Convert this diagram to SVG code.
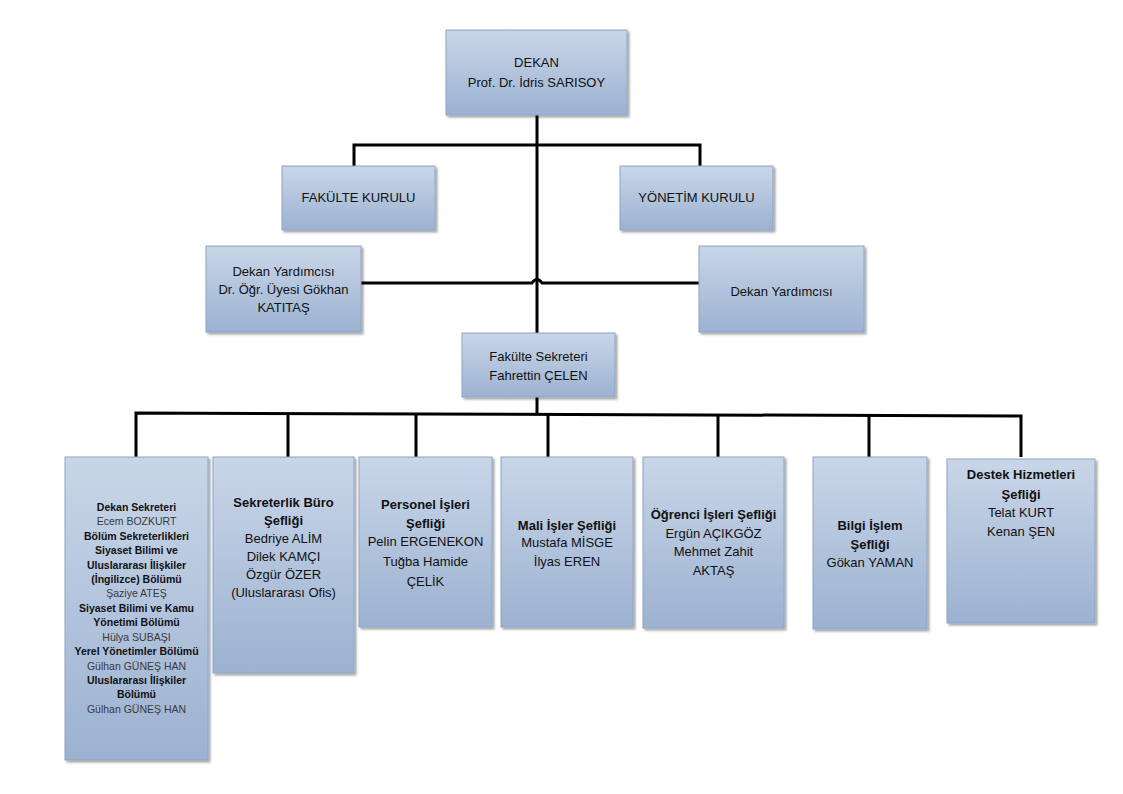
<svg xmlns="http://www.w3.org/2000/svg" width="1123" height="794" viewBox="0 0 1123 794">
<defs>
<linearGradient id="g" x1="0" y1="0" x2="0" y2="1">
<stop offset="0" stop-color="#c9d6e8"/>
<stop offset="1" stop-color="#9cb2d1"/>
</linearGradient>
<filter id="sh" x="-10%" y="-10%" width="130%" height="130%">
<feDropShadow dx="2" dy="2" stdDeviation="1.2" flood-color="#000" flood-opacity="0.35"/>
</filter>
</defs>
<style>
.box{fill:url(#g);stroke:#8ea4c4;stroke-width:1;filter:url(#sh)}
text{font-family:"Liberation Sans",Arial,sans-serif;fill:#111;text-anchor:middle}
.t{font-size:13px}
.s{font-size:10.5px}
.b{font-weight:bold}
.n{fill:#3a3a3a}
.c{fill:none;stroke:#000;stroke-width:3}
</style>
<rect width="1123" height="794" fill="#fff"/>
<g id="connectors">
<path class="c" d="M537 115 V333"/>
<path class="c" d="M354 166 V145 H700 V166"/>
<path class="c" d="M361 283 H532 Q537 276 542 283 H699"/>
<path class="c" d="M537 397 V414"/>
<path class="c" d="M136 457 V413 L1021 416 V457"/>
<path class="c" d="M288 457 V414"/>
<path class="c" d="M416 457 V414"/>
<path class="c" d="M548 457 V415"/>
<path class="c" d="M718 457 V415"/>
<path class="c" d="M869 457 V416"/>
</g>
<g id="dekan">
<rect class="box" x="446" y="30" width="181" height="85"/>
<text class="t" x="536.5" y="67">DEKAN</text>
<text class="t" x="536.5" y="87">Prof. Dr. İdris SARISOY</text>
</g>
<g id="fakulte-kurulu">
<rect class="box" x="282" y="166" width="153" height="64"/>
<text class="t" x="358.5" y="202">FAKÜLTE KURULU</text>
</g>
<g id="yonetim-kurulu">
<rect class="box" x="620" y="166" width="153" height="64"/>
<text class="t" x="696.5" y="202">YÖNETİM KURULU</text>
</g>
<g id="dekan-yard-1">
<rect class="box" x="206" y="246" width="155" height="86"/>
<text class="t" x="283.5" y="276">Dekan Yardımcısı</text>
<text class="t" x="283.5" y="294">Dr. Öğr. Üyesi Gökhan</text>
<text class="t" x="283.5" y="312">KATITAŞ</text>
</g>
<g id="dekan-yard-2">
<rect class="box" x="699" y="246" width="165" height="86"/>
<text class="t" x="781.5" y="296">Dekan Yardımcısı</text>
</g>
<g id="fakulte-sekreteri">
<rect class="box" x="462" y="333" width="153" height="64"/>
<text class="t" x="538.5" y="361">Fakülte Sekreteri</text>
<text class="t" x="538.5" y="380">Fahrettin ÇELEN</text>
</g>
<g id="dekan-sekreteri">
<rect class="box" x="65" y="457" width="143" height="303"/>
<text class="s b" x="136.5" y="511">Dekan Sekreteri</text>
<text class="s n" x="136.5" y="525">Ecem BOZKURT</text>
<text class="s b" x="136.5" y="540">Bölüm Sekreterlikleri</text>
<text class="s b" x="136.5" y="554">Siyaset Bilimi ve</text>
<text class="s b" x="136.5" y="569">Uluslararası İlişkiler</text>
<text class="s b" x="136.5" y="583">(İngilizce) Bölümü</text>
<text class="s n" x="136.5" y="597">Şaziye ATEŞ</text>
<text class="s b" x="136.5" y="612">Siyaset Bilimi ve Kamu</text>
<text class="s b" x="136.5" y="626">Yönetimi Bölümü</text>
<text class="s n" x="136.5" y="641">Hülya SUBAŞI</text>
<text class="s b" x="136.5" y="655">Yerel Yönetimler Bölümü</text>
<text class="s n" x="136.5" y="670">Gülhan GÜNEŞ HAN</text>
<text class="s b" x="136.5" y="684">Uluslararası İlişkiler</text>
<text class="s b" x="136.5" y="698">Bölümü</text>
<text class="s n" x="136.5" y="713">Gülhan GÜNEŞ HAN</text>
</g>
<g id="sekreterlik">
<rect class="box" x="213" y="457" width="141" height="216"/>
<text class="t b" x="283.5" y="507">Sekreterlik Büro</text>
<text class="t b" x="283.5" y="525">Şefliği</text>
<text class="t" x="283.5" y="543">Bedriye ALİM</text>
<text class="t" x="283.5" y="561">Dilek KAMÇI</text>
<text class="t" x="283.5" y="579">Özgür ÖZER</text>
<text class="t" x="283.5" y="597">(Uluslararası Ofis)</text>
</g>
<g id="personel">
<rect class="box" x="359" y="457" width="133" height="170"/>
<text class="t b" x="425.5" y="509">Personel İşleri</text>
<text class="t b" x="425.5" y="528">Şefliği</text>
<text class="t" x="425.5" y="546">Pelin ERGENEKON</text>
<text class="t" x="425.5" y="566">Tuğba Hamide</text>
<text class="t" x="425.5" y="586">ÇELİK</text>
</g>
<g id="mali">
<rect class="box" x="501" y="457" width="132" height="170"/>
<text class="t b" x="567" y="530">Mali İşler Şefliği</text>
<text class="t" x="567" y="547">Mustafa MİSGE</text>
<text class="t" x="567" y="566">İlyas EREN</text>
</g>
<g id="ogrenci">
<rect class="box" x="643" y="457" width="141" height="171"/>
<text class="t b" x="713.5" y="519">Öğrenci İşleri Şefliği</text>
<text class="t" x="713.5" y="538">Ergün AÇIKGÖZ</text>
<text class="t" x="713.5" y="556">Mehmet Zahit</text>
<text class="t" x="713.5" y="575">AKTAŞ</text>
</g>
<g id="bilgi-islem">
<rect class="box" x="813" y="457" width="114" height="172"/>
<text class="t b" x="870" y="530">Bilgi İşlem</text>
<text class="t b" x="870" y="549">Şefliği</text>
<text class="t" x="870" y="567">Gökan YAMAN</text>
</g>
<g id="destek">
<rect class="box" x="947" y="459" width="148" height="164"/>
<text class="t b" x="1021" y="479">Destek Hizmetleri</text>
<text class="t b" x="1021" y="499">Şefliği</text>
<text class="t" x="1021" y="517">Telat KURT</text>
<text class="t" x="1021" y="536">Kenan ŞEN</text>
</g>
</svg>
